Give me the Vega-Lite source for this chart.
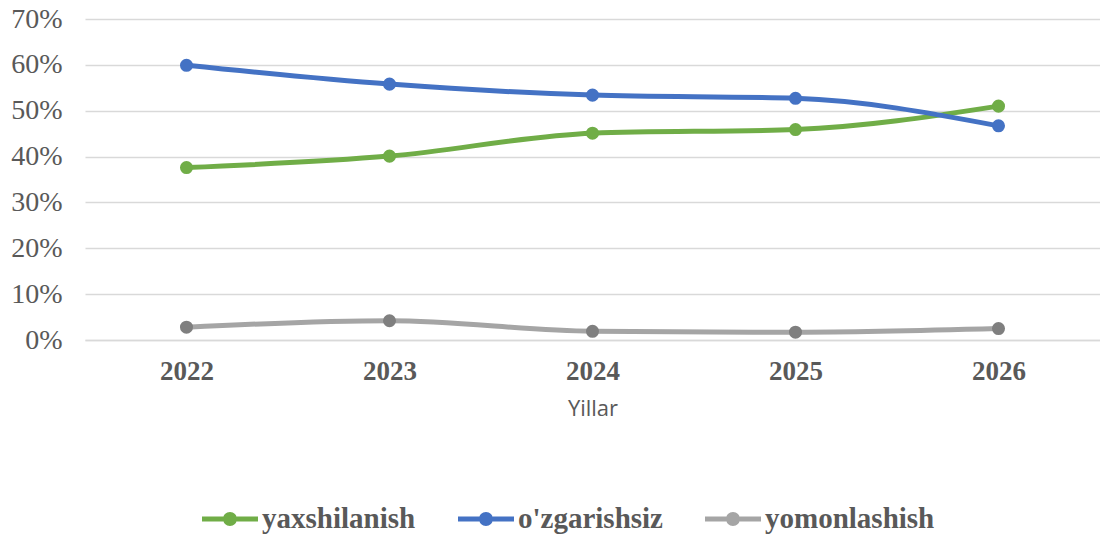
{
  "$schema": "https://vega.github.io/schema/vega-lite/v6.json",
  "width": 1015,
  "height": 321,
  "autosize": "none",
  "padding": {"left": 85, "top": 19, "right": 0, "bottom": 196},
  "background": "white",
  "config": {"view": {"stroke": null}},
  "data": {
    "values": [
      {"year": "2022", "series": "yaxshilanish", "value": 0.376},
      {"year": "2023", "series": "yaxshilanish", "value": 0.401},
      {"year": "2024", "series": "yaxshilanish", "value": 0.451},
      {"year": "2025", "series": "yaxshilanish", "value": 0.459},
      {"year": "2026", "series": "yaxshilanish", "value": 0.510},
      {"year": "2022", "series": "o'zgarishsiz", "value": 0.599},
      {"year": "2023", "series": "o'zgarishsiz", "value": 0.558},
      {"year": "2024", "series": "o'zgarishsiz", "value": 0.534},
      {"year": "2025", "series": "o'zgarishsiz", "value": 0.527},
      {"year": "2026", "series": "o'zgarishsiz", "value": 0.467},
      {"year": "2022", "series": "yomonlashish", "value": 0.028},
      {"year": "2023", "series": "yomonlashish", "value": 0.042},
      {"year": "2024", "series": "yomonlashish", "value": 0.019},
      {"year": "2025", "series": "yomonlashish", "value": 0.017},
      {"year": "2026", "series": "yomonlashish", "value": 0.025}
    ]
  },
  "encoding": {
    "x": {
      "field": "year",
      "type": "ordinal",
      "scale": {"type": "point", "padding": 0.5},
      "axis": {
        "title": "Yillar",
        "titleFont": "Open Sans",
        "titleFontWeight": "normal",
        "titleFontSize": 22,
        "titleColor": "#595959",
        "titlePadding": 14,
        "labelAngle": 0,
        "labelFont": "Liberation Serif",
        "labelFontWeight": "bold",
        "labelFontSize": 27,
        "labelColor": "#595959",
        "labelPadding": 18,
        "ticks": false,
        "domainColor": "#D9D9D9",
        "domainWidth": 1.5,
        "grid": false
      }
    },
    "y": {
      "field": "value",
      "type": "quantitative",
      "scale": {"domain": [0, 0.7]},
      "axis": {
        "title": null,
        "values": [0, 0.1, 0.2, 0.3, 0.4, 0.5, 0.6, 0.7],
        "format": ".0%",
        "labelFont": "Liberation Serif",
        "labelFontSize": 28,
        "labelColor": "#595959",
        "labelPadding": 23,
        "ticks": false,
        "domain": false,
        "gridColor": "#D9D9D9",
        "gridWidth": 1.5
      }
    }
  },
  "layer": [
    {
      "mark": {"type": "line", "strokeWidth": 5, "interpolate": "monotone"},
      "encoding": {
        "color": {
          "field": "series",
          "type": "nominal",
          "scale": {
            "domain": ["yaxshilanish", "o'zgarishsiz", "yomonlashish"],
            "range": ["#70AD47", "#4472C4", "#A5A5A5"]
          },
          "legend": {
            "title": null,
            "orient": "none",
            "direction": "horizontal",
            "legendX": 117,
            "legendY": 472,
            "symbolType": "M-1,-0.09L-0.24,-0.09L-0.24,0.09L-1,0.09Z M0.24,-0.09L1,-0.09L1,0.09L0.24,0.09Z M0.25,0A0.25,0.25,0,1,1,-0.25,0A0.25,0.25,0,1,1,0.25,0Z",
            "symbolSize": 3136,
            "symbolStrokeWidth": 0,
            "labelFont": "Liberation Serif",
            "labelFontWeight": "bold",
            "labelFontSize": 29,
            "labelColor": "#595959",
            "labelOffset": 4,
            "labelLimit": 400,
            "columnPadding": 42,
            "encode": {
              "symbols": {
                "update": {
                  "fill": {"scale": "color", "field": "value"},
                  "strokeWidth": {"value": 0},
                  "opacity": {"value": 1}
                }
              }
            }
          }
        }
      }
    },
    {
      "mark": {"type": "point", "filled": true, "size": 170, "opacity": 1},
      "encoding": {
        "color": {
          "condition": {"test": "datum.series === 'yomonlashish'", "value": "#7F7F7F"},
          "field": "series",
          "type": "nominal",
          "legend": null
        }
      }
    }
  ]
}
